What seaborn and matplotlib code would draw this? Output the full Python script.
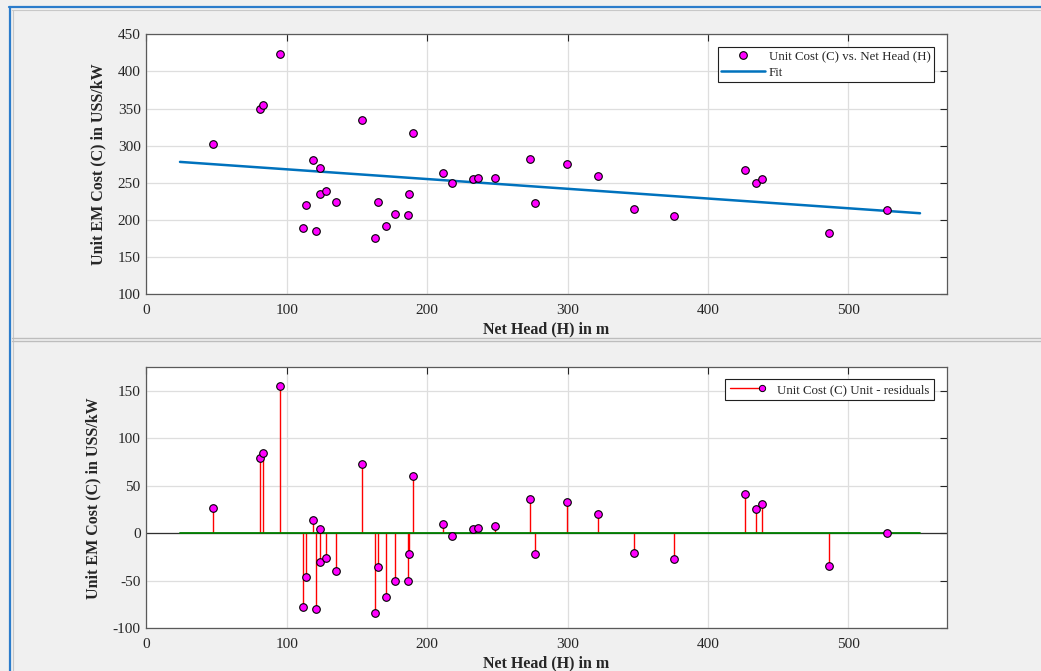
import numpy as np
import pandas as pd
import seaborn as sns
import matplotlib
matplotlib.use("Agg")
import matplotlib.pyplot as plt
from matplotlib.lines import Line2D
from matplotlib.legend_handler import HandlerBase

# Net head (m) and unit electro-mechanical cost (US$/kW) per plant
net_head = [47.5, 81.0, 83.3, 95.2, 118.9, 123.7, 123.9, 128.0, 113.5, 134.9,
            111.4, 121.1, 153.9, 190.0, 165.3, 176.9, 186.9, 186.4, 170.9, 163.1,
            211.5, 217.7, 232.9, 236.5, 248.4, 273.1, 276.9, 299.9, 322.0, 347.1,
            375.6, 426.6, 434.0, 438.7, 486.3, 527.3]
unit_cost = [302.3, 349.8, 354.8, 423.8, 280.3, 270.0, 235.0, 238.6, 220.2, 223.8,
             189.2, 185.6, 334.2, 317.1, 224.6, 208.5, 235.0, 206.7, 192.3, 176.2,
             263.3, 250.2, 255.2, 256.1, 256.9, 281.7, 222.9, 275.0, 259.2, 214.8,
             205.0, 267.3, 249.8, 255.2, 182.9, 213.0]

# Range over which the fitted line is evaluated
fit_range = [24.0, 551.0]

x_ticks = [0, 100, 200, 300, 400, 500]
top_y_ticks = [100, 150, 200, 250, 300, 350, 400, 450]
bot_y_ticks = [-100, -50, 0, 50, 100, 150]

x_label = "Net Head (H) in m"
y_label = "Unit EM Cost (C) in USS/kW"
data_label = "Unit Cost (C) vs. Net Head (H)"
fit_label = "Fit"
resid_label = "Unit Cost (C) Unit - residuals"

# Linear least-squares fit and residuals
H = np.asarray(net_head)
C = np.asarray(unit_cost)
slope, intercept = np.polyfit(H, C, 1)
resid = C - (intercept + slope * H)
fit_x = np.asarray(fit_range)
fit_y = intercept + slope * fit_x

df = pd.DataFrame({"H": H, "C": C, "R": resid})
fit_df = pd.DataFrame({"H": fit_x, "C": fit_y})
zero_df = pd.DataFrame({"H": fit_x, "R": [0.0, 0.0]})

sns.set_style("white")
plt.rcParams["font.family"] = ["Liberation Serif", "DejaVu Serif"]
plt.rcParams["axes.unicode_minus"] = False

BG = "#f0f0f0"
AX_COL = "#262626"
GRID_COL = "#dedede"
MAGENTA = "#ff00ff"
FIT_BLUE = "#0072bd"
LEG_FS = 9.3

fig = plt.figure(figsize=(10.41, 6.71), dpi=100, facecolor=BG)
W, Hh = 1041.0, 671.0

ax1 = fig.add_axes([146.3 / W, 1 - 294.3 / Hh, 800.4 / W, 260.0 / Hh])
ax2 = fig.add_axes([146.3 / W, 1 - 628.3 / Hh, 800.4 / W, 261.0 / Hh])


def style_axes(ax, yticks, ylim):
    ax.set_facecolor("white")
    ax.set_xlim(0, 570)
    ax.set_ylim(*ylim)
    ax.set_xticks(x_ticks)
    ax.set_yticks(yticks)
    ax.grid(True, color=GRID_COL, linewidth=0.9)
    ax.set_axisbelow(True)
    ax.tick_params(direction="in", top=True, right=True, length=5, width=0.8,
                   colors=AX_COL, labelsize=11, pad=4)
    ax.tick_params(axis="x", pad=7)
    for sp in ax.spines.values():
        sp.set_color("#5a5a5a")
        sp.set_linewidth(0.9)
        sp.set_visible(True)


def label_axes(ax):
    ax.set_xlabel(x_label, fontsize=11.5, fontweight="bold", color=AX_COL, labelpad=3.5)
    ax.set_ylabel(y_label, fontsize=11.5, fontweight="bold", color=AX_COL, labelpad=8)


# ---- top panel: data and linear fit ----
style_axes(ax1, top_y_ticks, (100, 450))
sns.lineplot(data=fit_df, x="H", y="C", ax=ax1, color=FIT_BLUE, linewidth=1.8, zorder=2)
sns.scatterplot(data=df, x="H", y="C", ax=ax1, color=MAGENTA, edgecolor="black",
                s=30, linewidth=0.8, zorder=3, legend=False)
label_axes(ax1)

h_data = Line2D([], [], linestyle="none", marker="o", markersize=5.5,
                markerfacecolor=MAGENTA, markeredgecolor="black", markeredgewidth=0.8)
h_fit = Line2D([], [], color=FIT_BLUE, linewidth=1.8)
leg1 = ax1.legend([h_data, h_fit], [data_label, fit_label], loc="upper right",
                  bbox_to_anchor=(0.9845, 0.952), borderaxespad=0,
                  fontsize=LEG_FS, handlelength=3.4, handletextpad=0.25,
                  labelspacing=0.3, borderpad=0.3, fancybox=False,
                  framealpha=1, edgecolor="#202020")
leg1.get_frame().set_linewidth(0.8)

# ---- bottom panel: residuals ----
style_axes(ax2, bot_y_ticks, (-100, 175))
ax2.axhline(0, color="#303030", linewidth=0.9, zorder=1)
ax2.vlines(df["H"], 0, df["R"], colors="red", linewidth=1.0, zorder=2)
sns.lineplot(data=zero_df, x="H", y="R", ax=ax2, color="#008000", linewidth=1.3, zorder=2.5)
sns.scatterplot(data=df, x="H", y="R", ax=ax2, color=MAGENTA, edgecolor="black",
                s=30, linewidth=0.8, zorder=3, legend=False)
label_axes(ax2)


class StemHandler(HandlerBase):
    """Legend entry drawn as a stem: a red line ending in a marker."""

    def create_artists(self, legend, orig_handle, xdescent, ydescent,
                       width, height, fontsize, trans):
        y = (height - ydescent) / 2.0
        x0, x1 = -xdescent, width - xdescent
        line = Line2D([x0, x1], [y, y], color="red", linewidth=1.0)
        mark = Line2D([x1], [y], linestyle="none", marker="o", markersize=4.5,
                      markerfacecolor=MAGENTA, markeredgecolor="black",
                      markeredgewidth=0.7)
        line.set_transform(trans)
        mark.set_transform(trans)
        return [line, mark]


h_stem = Line2D([], [], color="red")
leg2 = ax2.legend([h_stem], [resid_label], loc="upper right",
                  bbox_to_anchor=(0.9845, 0.954), borderaxespad=0, fontsize=LEG_FS,
                  handlelength=2.5, handletextpad=1.2, borderpad=0.35,
                  fancybox=False, framealpha=1, edgecolor="#202020",
                  handler_map={h_stem: StemHandler()})
leg2.get_frame().set_linewidth(0.8)


# ---- window frame decorations ----
def fig_hline(ypx, x0px, x1px, color, lw):
    fig.add_artist(Line2D([x0px / W, x1px / W], [1 - ypx / Hh, 1 - ypx / Hh],
                          transform=fig.transFigure, color=color, linewidth=lw))


def fig_vline(xpx, y0px, y1px, color, lw):
    fig.add_artist(Line2D([xpx / W, xpx / W], [1 - y0px / Hh, 1 - y1px / Hh],
                          transform=fig.transFigure, color=color, linewidth=lw))


fig_hline(7.0, 9.0, W, "#2b7ccb", 1.6)
fig_vline(10.0, 6.5, Hh, "#2b7ccb", 1.6)
fig_hline(9.5, 11.5, W, "#c8c8c8", 0.8)
fig_vline(12.5, 9.5, Hh, "#c8c8c8", 0.8)
fig_hline(337.5, 11.5, W, "#bdbdbd", 1.0)
fig_hline(341.0, 11.5, W, "#bdbdbd", 1.0)

fig.savefig("out.png", dpi=100, facecolor=BG)
